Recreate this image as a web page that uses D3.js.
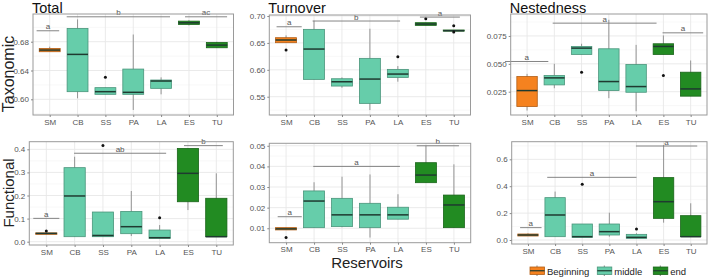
<!DOCTYPE html>
<html>
<head>
<meta charset="utf-8">
<script src="https://cdn.jsdelivr.net/npm/d3@7"></script>
<style>
  body { margin: 0; background: #fff; }
  svg { display: block; font-family: "Liberation Sans", Arial, sans-serif; }
</style>
</head>
<body>
<div id="chart"></div>
<script>
// categories
var reservoirs = ["SM", "CB", "SS", "PA", "LA", "ES", "TU"];
var stages = ["Beginning", "middle", "middle", "middle", "middle", "end", "end"];
var stageNames = ["Beginning", "middle", "end"];
var stageColors = ["#F5821F", "#66CDAA", "#228B22"];

// box stats per reservoir: [lower whisker, q1, median, q3, upper whisker]
var taxTotalBoxes = [
    [0.6661, 0.6661, 0.6684, 0.6707, 0.6731],
    [0.6014, 0.6106, 0.6624, 0.6985, 0.7110],
    [0.6069, 0.6069, 0.6106, 0.6162, 0.6162],
    [0.5852, 0.6069, 0.6097, 0.6420, 0.6900],
    [0.6069, 0.6152, 0.6254, 0.6268, 0.6305],
    [0.7026, 0.7040, 0.7063, 0.7086, 0.7100],
    [0.6716, 0.6716, 0.6753, 0.6790, 0.6800]
];
var taxTotalOutliers = [["SS", 0.6305]];
var taxTotalSig = [["a", -0.47, 0.34, 0.6952], ["b", 0.61, 4.32, 0.7146], ["ac", 4.86, 6.37, 0.7146]];
var taxTotalTicks = [0.60, 0.64, 0.68];
var taxTotalMinor = [0.58, 0.62, 0.66, 0.70];
var taxTotalLim = [0.5782, 0.7185];

var taxTurnBoxes = [
    [0.6504, 0.6504, 0.6554, 0.6597, 0.6640],
    [0.5822, 0.5822, 0.6386, 0.6752, 0.6913],
    [0.5667, 0.5698, 0.5778, 0.5834, 0.5859],
    [0.5252, 0.5376, 0.5828, 0.6213, 0.6764],
    [0.5779, 0.5859, 0.5921, 0.6008, 0.6070],
    [0.6826, 0.6826, 0.6851, 0.6876, 0.6876],
    [0.6720, 0.6720, 0.6727, 0.6740, 0.6740]
];
var taxTurnOutliers = [["SM", 0.6368], ["LA", 0.6244], ["ES", 0.6950], ["TU", 0.6820], ["TU", 0.6702]];
var taxTurnSig = [["a", -0.34, 0.56, 0.6800], ["b", 0.95, 4.08, 0.6907], ["a", 4.79, 6.22, 0.6980]];
var taxTurnTicks = [0.55, 0.60, 0.65, 0.70];
var taxTurnMinor = [0.525, 0.575, 0.625, 0.675];
var taxTurnLim = [0.516, 0.7019];

var taxNestBoxes = [
    [0.0081, 0.0117, 0.0260, 0.0386, 0.0410],
    [0.0281, 0.0311, 0.0374, 0.0395, 0.0500],
    [0.0584, 0.0584, 0.0641, 0.0656, 0.0680],
    [0.0192, 0.0260, 0.0341, 0.0635, 0.0895],
    [0.0075, 0.0245, 0.0296, 0.0494, 0.0670],
    [0.0584, 0.0584, 0.0656, 0.0680, 0.0755],
    [0.0210, 0.0210, 0.0275, 0.0425, 0.0530]
];
var taxNestOutliers = [["SS", 0.0425], ["ES", 0.0395]];
var taxNestSig = [["a", -0.81, 0.78, 0.0521], ["a", 0.94, 4.75, 0.0865], ["a", 4.97, 6.46, 0.0778]];
var taxNestTicks = [0.025, 0.050, 0.075];
var taxNestMinor = [0.0125, 0.0375, 0.0625, 0.0875];
var taxNestLim = [0.0041, 0.0947];

var funTotalBoxes = [
    [0.0320, 0.0320, 0.0360, 0.0380, 0.0380],
    [0.0217, 0.0217, 0.1980, 0.3206, 0.3680],
    [0.0217, 0.0217, 0.0270, 0.1285, 0.1285],
    [0.0245, 0.0347, 0.0650, 0.1310, 0.2195],
    [0.0144, 0.0144, 0.0173, 0.0505, 0.0720],
    [0.1370, 0.1730, 0.2960, 0.4040, 0.4040],
    [0.0217, 0.0217, 0.0217, 0.1880, 0.2960]
];
var funTotalOutliers = [["SM", 0.046], ["SS", 0.417], ["LA", 0.104]];
var funTotalSig = [["a", -0.46, 0.46, 0.101], ["ab", 0.98, 4.23, 0.383], ["b", 4.86, 6.23, 0.416]];
var funTotalTicks = [0.0, 0.1, 0.2, 0.3, 0.4];
var funTotalMinor = [0.05, 0.15, 0.25, 0.35];
var funTotalLim = [-0.0143, 0.433];

var funTurnBoxes = [
    [0.0092, 0.0092, 0.0097, 0.0103, 0.0103],
    [0.0103, 0.0103, 0.0232, 0.0281, 0.0323],
    [0.0105, 0.0108, 0.0165, 0.0245, 0.0350],
    [0.0055, 0.0103, 0.0165, 0.0221, 0.0361],
    [0.0144, 0.0144, 0.0165, 0.0202, 0.0265],
    [0.0321, 0.0321, 0.0358, 0.0418, 0.0500],
    [0.0103, 0.0103, 0.0213, 0.0261, 0.0410]
];
var funTurnOutliers = [["SM", 0.0055]];
var funTurnSig = [["a", -0.30, 0.56, 0.0156], ["a", 0.97, 4.07, 0.0400], ["b", 4.67, 6.18, 0.0500]];
var funTurnTicks = [0.01, 0.02, 0.03, 0.04, 0.05];
var funTurnMinor = [0.005, 0.015, 0.025, 0.035, 0.045];
var funTurnLim = [0.003, 0.0512];

var funNestBoxes = [
    [0.0298, 0.0298, 0.0372, 0.0446, 0.0500],
    [0.0248, 0.0248, 0.1860, 0.3150, 0.3600],
    [0.0198, 0.0198, 0.0248, 0.1190, 0.1190],
    [0.0248, 0.0372, 0.0620, 0.1190, 0.2030],
    [0.0124, 0.0124, 0.0198, 0.0420, 0.0500],
    [0.1290, 0.1610, 0.2850, 0.4640, 0.7060],
    [0.0248, 0.0248, 0.0248, 0.1810, 0.2730]
];
var funNestOutliers = [["SS", 0.414], ["LA", 0.082]];
var funNestSig = [["a", -0.29, 0.50, 0.092], ["a", 0.71, 4.00, 0.466], ["a", 3.98, 6.24, 0.699]];
var funNestTicks = [0.0, 0.2, 0.4, 0.6];
var funNestMinor = [0.1, 0.3, 0.5, 0.7];
var funNestLim = [-0.0297, 0.731];

var width = 709, height = 279;

var svg = d3.select("#chart").append("svg")
    .attr("width", width)
    .attr("height", height);

var color = d3.scaleOrdinal().domain(stageNames).range(stageColors);

var panels = [
    {x0: 33, x1: 233.5, y0: 14, y1: 115, boxes: taxTotalBoxes, out: taxTotalOutliers, sig: taxTotalSig,
     ticks: taxTotalTicks, minor: taxTotalMinor, lim: taxTotalLim, fmt: ".2f", title: "Total"},
    {x0: 269.3, x1: 470.5, y0: 15, y1: 115, boxes: taxTurnBoxes, out: taxTurnOutliers, sig: taxTurnSig,
     ticks: taxTurnTicks, minor: taxTurnMinor, lim: taxTurnLim, fmt: ".2f", title: "Turnover"},
    {x0: 510.7, x1: 707, y0: 14, y1: 115, boxes: taxNestBoxes, out: taxNestOutliers, sig: taxNestSig,
     ticks: taxNestTicks, minor: taxNestMinor, lim: taxNestLim, fmt: ".3f", title: "Nestedness"},
    {x0: 29.3, x1: 233.3, y0: 141.7, y1: 245, boxes: funTotalBoxes, out: funTotalOutliers, sig: funTotalSig,
     ticks: funTotalTicks, minor: funTotalMinor, lim: funTotalLim, fmt: ".1f"},
    {x0: 269.3, x1: 470.7, y0: 143.3, y1: 242.7, boxes: funTurnBoxes, out: funTurnOutliers, sig: funTurnSig,
     ticks: funTurnTicks, minor: funTurnMinor, lim: funTurnLim, fmt: ".2f"},
    {x0: 511.7, x1: 707, y0: 141.7, y1: 244, boxes: funNestBoxes, out: funNestOutliers, sig: funNestSig,
     ticks: funNestTicks, minor: funNestMinor, lim: funNestLim, fmt: ".1f"}
];

panels.forEach(drawPanel);

function drawPanel(p)
{
    var x = d3.scalePoint().domain(reservoirs).range([p.x0, p.x1]).padding(0.6);
    var y = d3.scaleLinear().domain(p.lim).range([p.y1, p.y0]);
    var bw = x.step() * 0.75;
    var g = svg.append("g");

    g.append("rect")
        .attr("x", p.x0).attr("y", p.y0)
        .attr("width", p.x1 - p.x0).attr("height", p.y1 - p.y0)
        .attr("fill", "#fff");

    // grid
    g.selectAll(".minor").data(p.minor.filter(function(v) { return v > p.lim[0] && v < p.lim[1]; }))
        .enter().append("line")
        .attr("x1", p.x0).attr("x2", p.x1)
        .attr("y1", function(d) { return y(d); }).attr("y2", function(d) { return y(d); })
        .attr("stroke", "#f3f3f3").attr("stroke-width", 0.6);
    g.selectAll(".major").data(p.ticks)
        .enter().append("line")
        .attr("x1", p.x0).attr("x2", p.x1)
        .attr("y1", function(d) { return y(d); }).attr("y2", function(d) { return y(d); })
        .attr("stroke", "#e8e8e8").attr("stroke-width", 0.9);
    g.selectAll(".vgrid").data(reservoirs)
        .enter().append("line")
        .attr("x1", function(d) { return x(d); }).attr("x2", function(d) { return x(d); })
        .attr("y1", p.y0).attr("y2", p.y1)
        .attr("stroke", "#e8e8e8").attr("stroke-width", 0.9);

    // boxes
    var box = g.selectAll(".box").data(p.boxes)
        .enter().append("g");

    box.append("line")
        .attr("x1", function(d, i) { return x(reservoirs[i]); })
        .attr("x2", function(d, i) { return x(reservoirs[i]); })
        .attr("y1", function(d) { return y(d[0]); })
        .attr("y2", function(d) { return y(d[4]); })
        .attr("stroke", "#8a8a8a").attr("stroke-width", 0.9);

    box.append("rect")
        .attr("x", function(d, i) { return x(reservoirs[i]) - bw / 2; })
        .attr("y", function(d) { return y(d[3]); })
        .attr("width", bw)
        .attr("height", function(d) { return Math.max(1, y(d[1]) - y(d[3])); })
        .attr("fill", function(d, i) { return color(stages[i]); })
        .attr("stroke", function(d, i) { return d3.color(color(stages[i])).darker(0.9); })
        .attr("stroke-width", 0.8);

    box.append("line")
        .attr("x1", function(d, i) { return x(reservoirs[i]) - bw / 2; })
        .attr("x2", function(d, i) { return x(reservoirs[i]) + bw / 2; })
        .attr("y1", function(d) { return y(d[2]); })
        .attr("y2", function(d) { return y(d[2]); })
        .attr("stroke", "#1f3a30").attr("stroke-width", 1.5);

    g.selectAll(".out").data(p.out)
        .enter().append("circle")
        .attr("cx", function(d) { return x(d[0]); })
        .attr("cy", function(d) { return y(d[1]); })
        .attr("r", 1.5)
        .attr("fill", "#111");

    // significance lines
    var first = x(reservoirs[0]);
    var sig = g.selectAll(".sig").data(p.sig).enter().append("g");
    sig.append("line")
        .attr("x1", function(d) { return first + d[1] * x.step(); })
        .attr("x2", function(d) { return first + d[2] * x.step(); })
        .attr("y1", function(d) { return y(d[3]); })
        .attr("y2", function(d) { return y(d[3]); })
        .attr("stroke", "#777").attr("stroke-width", 0.9);
    sig.append("text")
        .attr("x", function(d) { return first + (d[1] + d[2]) / 2 * x.step(); })
        .attr("y", function(d) { return y(d[3]) - 1.5; })
        .attr("text-anchor", "middle")
        .attr("fill", "#555")
        .style("font-size", "8px")
        .text(function(d) { return d[0]; });

    // border
    g.append("rect")
        .attr("x", p.x0).attr("y", p.y0)
        .attr("width", p.x1 - p.x0).attr("height", p.y1 - p.y0)
        .attr("fill", "none")
        .attr("stroke", "#9a9a9a").attr("stroke-width", 1);

    // axes
    var ya = g.append("g")
        .attr("transform", "translate(" + p.x0 + ",0)")
        .call(d3.axisLeft(y).tickValues(p.ticks).tickSize(2).tickPadding(2).tickFormat(d3.format(p.fmt)));
    var xa = g.append("g")
        .attr("transform", "translate(0," + p.y1 + ")")
        .call(d3.axisBottom(x).tickSize(2).tickPadding(2));
    [ya, xa].forEach(function(a)
    {
        a.select(".domain").remove();
        a.selectAll(".tick line").attr("stroke", "#888");
        a.selectAll("text").attr("fill", "#555").style("font-size", "8px")
            .style("font-family", "'Liberation Sans', Arial, sans-serif");
    });

    if (p.title)
    {
        svg.append("text")
            .attr("x", p.x0 - 1).attr("y", 12.5)
            .style("font-size", "14.5px")
            .attr("fill", "#111")
            .text(p.title);
    }
}

// axis titles
svg.append("text")
    .attr("transform", "translate(14,74) rotate(-90)")
    .attr("text-anchor", "middle")
    .style("font-size", "16px")
    .attr("fill", "#222")
    .text("Taxonomic");

svg.append("text")
    .attr("transform", "translate(13.5,193) rotate(-90)")
    .attr("text-anchor", "middle")
    .style("font-size", "15px")
    .attr("fill", "#222")
    .text("Functional");

svg.append("text")
    .attr("x", 367).attr("y", 268)
    .attr("text-anchor", "middle")
    .style("font-size", "15px")
    .attr("fill", "#222")
    .text("Reservoirs");

// legend
var legendX = [530, 597.3, 653.3];
var legend = svg.append("g").selectAll(".leg").data(stageNames)
    .enter().append("g")
    .attr("transform", function(d, i) { return "translate(" + legendX[i] + ",267)"; });

legend.append("line")
    .attr("x1", 7).attr("x2", 7).attr("y1", -1.5).attr("y2", 9)
    .attr("stroke", "#666").attr("stroke-width", 0.8);
legend.append("rect")
    .attr("width", 14.5).attr("height", 7.5)
    .attr("fill", function(d) { return color(d); })
    .attr("stroke", function(d) { return d3.color(color(d)).darker(0.9); })
    .attr("stroke-width", 0.8);
legend.append("line")
    .attr("x1", 0).attr("x2", 14.5).attr("y1", 3.75).attr("y2", 3.75)
    .attr("stroke", "#1f3a30").attr("stroke-width", 1.2);
legend.append("text")
    .attr("x", 17).attr("y", 7.5)
    .style("font-size", "9.5px")
    .attr("fill", "#222")
    .text(function(d) { return d; });
</script>
</body>
</html>
